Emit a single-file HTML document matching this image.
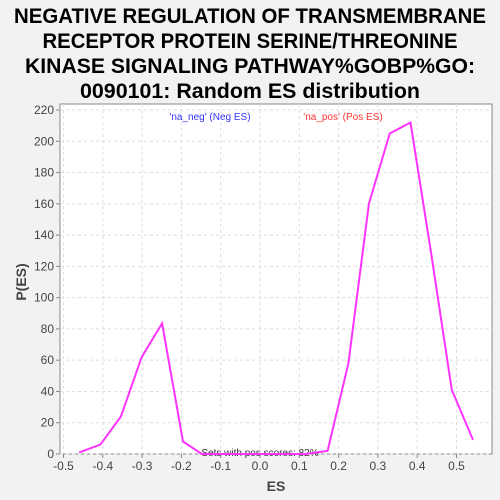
<!DOCTYPE html>
<html><head><meta charset="utf-8"><style>
html,body{margin:0;padding:0;background:#f2f2f2;}
svg{display:block;font-family:"Liberation Sans",sans-serif;}
</style></head><body>
<svg width="500" height="500" viewBox="0 0 500 500">
<rect x="0" y="0" width="500" height="500" fill="#f2f2f2"/>
<g font-weight="bold" font-size="21" fill="#000" text-anchor="middle">
<text x="250" y="23" textLength="472" lengthAdjust="spacingAndGlyphs">NEGATIVE REGULATION OF TRANSMEMBRANE</text>
<text x="250" y="48" textLength="415" lengthAdjust="spacingAndGlyphs">RECEPTOR PROTEIN SERINE/THREONINE</text>
<text x="250" y="73" textLength="450" lengthAdjust="spacingAndGlyphs">KINASE SIGNALING PATHWAY%GOBP%GO:</text>
<text x="250" y="98" textLength="340" lengthAdjust="spacingAndGlyphs">0090101: Random ES distribution</text>
</g>
<rect x="60" y="104" width="432" height="350" fill="#fff" stroke="#888"/>
<g id="grid"></g>
<g id="axes"></g>
<text x="210" y="120" font-size="10" fill="#3333ff" text-anchor="middle">'na_neg' (Neg ES)</text>
<text x="343" y="120" font-size="10" fill="#ff3333" text-anchor="middle">'na_pos' (Pos ES)</text>
<text x="260" y="456" font-size="10" fill="#333" text-anchor="middle">Sets with pos scores: 82%</text>
<polyline id="line" fill="none" stroke="#ff33ff" stroke-width="2"/>
<text x="276" y="491" font-size="14" font-weight="bold" fill="#444" text-anchor="middle">ES</text>
<text x="0" y="0" font-size="14" font-weight="bold" fill="#444" text-anchor="middle" transform="translate(26,282) rotate(-90)">P(ES)</text>
</svg>
<script>
const esValues = [-0.46,-0.406,-0.354,-0.301,-0.249,-0.196,-0.148,-0.096,-0.043,0.01,0.063,0.116,0.172,0.225,0.277,0.33,0.383,0.435,0.488,0.542];
const densityValues = [1,6,24,62,83.5,8,0,0,0,0,0,0,2,58,160,205,212,129,41,9];
const xTicks = [-0.5,-0.4,-0.3,-0.2,-0.1,0.0,0.1,0.2,0.3,0.4,0.5];
const yTicks = [0,20,40,60,80,100,120,140,160,180,200,220];
const NS='http://www.w3.org/2000/svg';
const xs = v => 260 + v*393;
const ys = v => 454 - v*1.5636;
const grid=document.getElementById('grid'), axes=document.getElementById('axes');
function mk(tag,attrs,parent){const e=document.createElementNS(NS,tag);for(const k in attrs)e.setAttribute(k,attrs[k]);parent.appendChild(e);return e;}
xTicks.forEach(t=>{
  const x=xs(t);
  const g=mk('line',{x1:x,x2:x,y1:104,y2:454,stroke:'#ddd','stroke-dasharray':'3,3'},grid);
  
  
  const tk=mk('line',{x1:x,x2:x,y1:454,y2:458,stroke:'#888'},axes);
  
  
  const l=mk('text',{x:x,y:470,'font-size':'12',fill:'#444','text-anchor':'middle'},axes);
  l.textContent=t.toFixed(1);
  
  
});
yTicks.forEach(t=>{
  const y=ys(t);
  const g=mk('line',{x1:60,x2:492,y1:y,y2:y,stroke:'#ddd','stroke-dasharray':'3,3'},grid);
  
  
  const tk=mk('line',{x1:56,x2:60,y1:y,y2:y,stroke:'#888'},axes);
  
  
  const l=mk('text',{x:54,y:y+4,'font-size':'12',fill:'#444','text-anchor':'end'},axes);
  l.textContent=t;
  
  
});
document.getElementById('line').setAttribute('points',esValues.map((v,i)=>xs(v).toFixed(1)+','+ys(densityValues[i]).toFixed(1)).join(' '));
</script>
</body></html>
